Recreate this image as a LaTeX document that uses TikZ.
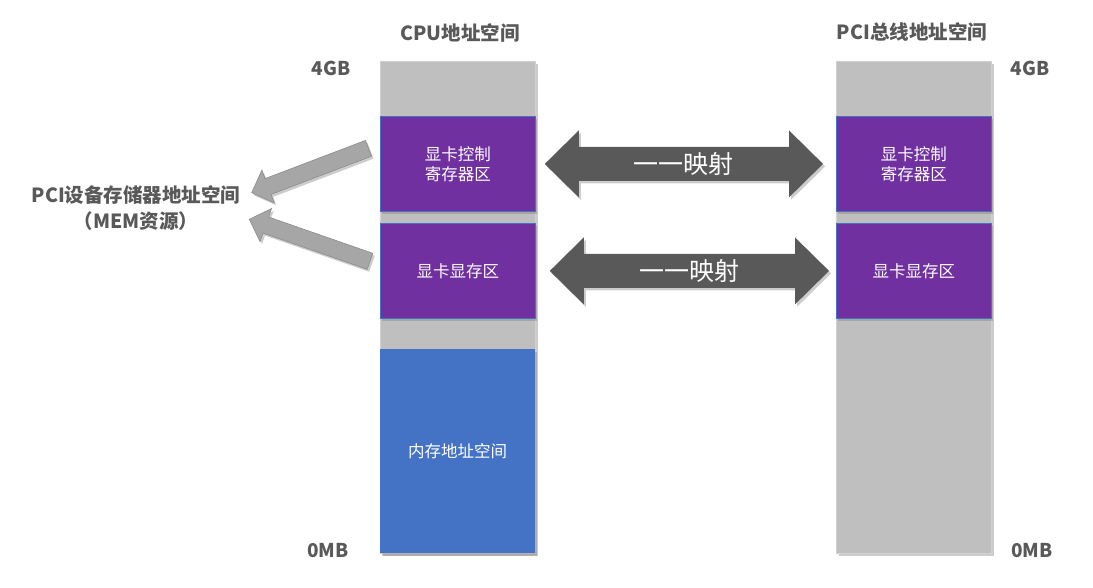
\documentclass[tikz,border=0pt]{standalone}
\usepackage{fontspec}
\setmainfont{Noto Sans CJK SC}
\usetikzlibrary{shadows,calc}
\definecolor{colgray}{HTML}{BFBFBF}
\definecolor{colborder}{HTML}{D0D0D0}
\definecolor{purp}{HTML}{7030A0}
\definecolor{memblue}{HTML}{4472C4}
\definecolor{darkarrow}{HTML}{595959}
\definecolor{lightarrow}{HTML}{A6A6A6}
\definecolor{lightarrowline}{HTML}{8C8C8C}
\definecolor{labelgray}{HTML}{595959}
\tikzset{
  shad/.style={drop shadow={shadow xshift=2pt, shadow yshift=-2.5pt, opacity=0.4}},
  column/.style={shad, fill=colgray, draw=colborder, line width=1pt, anchor=north west,
    inner sep=0pt, minimum width=155pt, minimum height=492pt},
  region/.style={shad, draw=memblue, line width=0.8pt, fill=purp, text=white,
    font=\fontsize{16.5}{20}\selectfont, align=center, anchor=north west,
    inner sep=0pt, minimum width=155pt, minimum height=95pt},
  memregion/.style={shad, fill=memblue, text=white, font=\fontsize{16.5}{20}\selectfont,
    anchor=north west, inner sep=0pt, minimum width=155pt, minimum height=204pt},
  title/.style={text=labelgray, font=\fontsize{19.5}{26}\bfseries\selectfont, align=center, inner sep=0pt},
  bound/.style={text=labelgray, font=\fontsize{19}{22}\bfseries\selectfont, inner sep=0pt},
  maparrow/.style={shad, fill=darkarrow},
  maptext/.style={text=white, font=\fontsize{25}{28}\selectfont, inner sep=0pt},
  refarrow/.style={shad, fill=lightarrow, draw=lightarrowline, line width=0.6pt, line join=miter},
}
\begin{document}
\begin{tikzpicture}[x=1pt,y=-1pt]
\useasboundingbox (0,0) rectangle (1093,588);
\fill[white] (0,0) rectangle (1093,588);

% columns
\node[column] (cpu) at (380,61) {};
\node[column] (pci) at (836,61) {};

% CPU regions
\node[region] (cpuctl) at (380,116) {显卡控制\\寄存器区};
\node[region] (cpuvram) at (380,223) {显卡显存区};
\node[memregion] (cpumem) at (380,349) {内存地址空间};

% PCI regions
\node[region] (pcictl) at (836,116) {显卡控制\\寄存器区};
\node[region] (pcivram) at (836,223) {显卡显存区};

% titles and bounds
\node[title] (cputitle) at (460,33) {CPU地址空间};
\node[title] (pcititle) at (912,32) {PCI总线地址空间};
\node[bound] (cpu4g) at (331,68) {4GB};
\node[bound] (cpu0m) at (328,551) {0MB};
\node[bound] (pci4g) at (1030,68) {4GB};
\node[bound] (pci0m) at (1032,551) {0MB};
\node[title] (pcidev) at (136,208) {PCI设备存储器地址空间\\（MEM资源）};

% mapping arrows
\coordinate (m1a) at ($(cpuctl.east)+(9,0)$);
\coordinate (m1b) at ($(pcictl.west)+(-13,0)$);
\fill[maparrow] (m1a) -- ($(m1a)+(34,-33.5)$) -- ($(m1a)+(34,-17)$) -- ($(m1b)+(-34,-17)$)
  -- ($(m1b)+(-34,-33.5)$) -- (m1b) -- ($(m1b)+(-34,33.5)$) -- ($(m1b)+(-34,17)$)
  -- ($(m1a)+(34,17)$) -- ($(m1a)+(34,33.5)$) -- cycle;
\node[maptext] (map1) at ($(m1a)!0.5!(m1b)$) {一一映射};

\coordinate (m2a) at ($(cpuvram.east)+(14,0)$);
\coordinate (m2b) at ($(pcivram.west)+(-7,0)$);
\fill[maparrow] (m2a) -- ($(m2a)+(34,-33.5)$) -- ($(m2a)+(34,-17)$) -- ($(m2b)+(-34,-17)$)
  -- ($(m2b)+(-34,-33.5)$) -- (m2b) -- ($(m2b)+(-34,33.5)$) -- ($(m2b)+(-34,17)$)
  -- ($(m2a)+(34,17)$) -- ($(m2a)+(34,33.5)$) -- cycle;
\node[maptext] (map2) at ($(m2a)!0.5!(m2b)$) {一一映射};

% arrows to the PCI device label
\draw[refarrow] (371.5,156.2) -- (271.1,194.4) -- (274.3,202.9) -- (251.7,192.7)
  -- (261.9,170.1) -- (265.1,178.6) -- (365.5,140.4) -- cycle;
\draw[refarrow] (372.8,253.3) -- (268.6,217.0) -- (271.6,208.5) -- (249.3,219.3)
  -- (260.0,241.6) -- (263.0,233.1) -- (367.2,269.3) -- cycle;
\end{tikzpicture}
\end{document}
